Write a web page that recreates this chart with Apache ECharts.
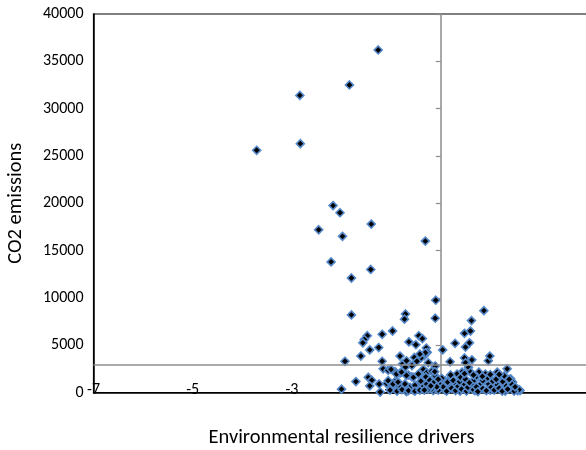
<!DOCTYPE html>
<html>
<head>
<meta charset="utf-8">
<script src="https://cdn.jsdelivr.net/npm/echarts@6/dist/echarts.min.js"></script>
<style>html,body{margin:0;padding:0;background:#fff}#c{width:586px;height:450px}</style>
</head>
<body>
<div id="c"></div>
<script>
// Tick labels / axis settings
const xTicks = { min: -7, max: 3, step: 2 };
const yTicks = { min: 0, max: 40000, step: 5000 };
const xTitle = 'Environmental resilience drivers';
const yTitle = 'CO2 emissions';
const meanCO2 = 2950;

// Environmental resilience driver (x) values
const driverValues = [
  -3.71,-2.84,-2.83,-1.84,-1.26,
  -2.17,-2.03,-2.46,-1.40,-1.98,-0.31,-2.21,-1.41,-1.80,-1.80,-0.10,-0.11,-0.71,-0.73,0.87,0.62,
  -0.97,-1.18,-1.48,-1.54,-1.57,0.48,0.60,-0.44,-0.37,-0.64,-0.50,
  -1.25,-1.43,-0.29,-0.27,-0.33,-0.40,0.04,0.29,0.50,0.58,
  -1.61,-1.93,-1.18,-0.77,-0.71,-0.53,-0.48,
  0.19,0.48,0.63,0.50,0.96,0.99,1.34,-0.82,-0.69,-0.31,-0.42,-0.25,
  -2.00,-1.71,-1.46,-1.39,-1.43,-1.24,-1.22,-1.09,-0.99,-0.92,-0.85,-0.92,-0.82,-0.69,-0.55,-0.45,-0.65,-0.58,
  -1.16,-1.06,-1.00,-0.89,-0.79,-0.69,-0.55,-0.45,-0.35,
  -1.06,-0.96,-0.86,-0.72,-0.62,-0.52,-0.38,-0.28,
  -1.02,-0.88,-0.78,-0.65,-0.52,-0.42,
  -0.35,-0.28,-0.18,-0.11,-0.58,
  0.56,0.60,0.43,0.33,0.77,0.90,1.14,1.21,-0.11,0.09,0.19,1.41,1.45,
  0.00,0.16,0.29,0.46,0.63,0.80,0.97,1.14,1.31,
  -0.15,0.09,0.39,0.69,1.00,1.30,1.60,1.55,1.58,1.32,1.44,1.38,1.48,
  -0.18,-0.05,0.05,0.12,0.22,0.30,0.35,0.42,0.52,0.55,0.66,0.72,0.75,0.85,0.92,1.02,1.08,1.18,1.24,1.35,1.50,
  0.02,0.14,0.25,0.38,0.40,0.50,0.58,0.68,0.72,0.85,0.95,1.05,1.12,1.25,1.28,
  0.20,0.48,0.66,0.84,1.00,1.18,
  -0.40,-0.30,-0.22,-0.15,-0.08,-0.25,-0.12,-0.05,-0.33,-0.20
];

// CO2 emissions (y) values
const co2Values = [
  25600,31400,26300,32500,36200,
  19750,19000,17200,17800,16500,16000,13800,13000,12100,8200,9750,7850,8300,7750,8650,7600,
  6500,6150,6000,5600,5250,6250,6500,6000,5700,5350,5050,
  4750,4500,4700,4250,3900,3650,4500,5200,4800,5250,
  3850,3300,3300,3000,2700,3700,3300,
  3250,3650,3450,3150,3350,3850,2500,3850,3350,4200,4050,3150,
  350,1150,1600,1300,700,900,50,950,600,1150,700,2200,2050,100,250,800,1850,1650,
  2500,2350,2450,1950,2150,1800,1600,1950,1450,
  1250,900,1100,900,550,750,550,900,
  250,150,300,200,150,250,
  2450,2100,2250,2800,2850,
  2650,2150,2150,1950,2150,1950,2150,1600,1750,1250,1450,1450,1100,
  850,800,900,800,900,850,900,800,950,
  200,250,150,200,250,150,200,200,300,700,850,1400,150,
  400,250,600,150,450,200,650,350,150,550,300,600,100,400,200,550,250,450,150,350,600,
  1500,1100,1300,1150,1600,1400,1050,1350,1700,1250,1550,1200,1400,1150,1750,
  1850,2000,1850,1700,1900,1900,
  1200,1650,1300,1000,600,350,2200,1400,250,700
];

const points = driverValues.map((x, i) => [x, co2Values[i]]);
const FONT = 'Carlito, Lato, sans-serif';

const chart = echarts.init(document.getElementById('c'), null, { renderer: 'canvas' });
chart.setOption({
  animation: false,
  grid: {
    left: 93.5, right: -3.5, top: 14, bottom: 57.5,
    containLabel: false, outerBoundsMode: 'none',
    show: true, borderColor: '#000', borderWidth: 1.2, backgroundColor: 'transparent'
  },
  xAxis: [{
    type: 'value', min: xTicks.min, max: xTicks.max, interval: xTicks.step,
    axisLine: { onZero: false, lineStyle: { color: '#000', width: 1.5 } },
    axisTick: { show: false },
    splitLine: { show: false },
    axisLabel: { margin: -10.5, color: '#000', fontSize: 16, fontFamily: FONT, showMaxLabel: false,
      formatter: v => String(v) },
    name: xTitle, nameLocation: 'middle', nameGap: 35,
    nameTextStyle: { color: '#000', fontSize: 20.5, fontFamily: FONT }
  }],
  yAxis: [{
    type: 'value', min: yTicks.min, max: yTicks.max, interval: yTicks.step,
    position: 'left',
    axisLine: { show: true, onZero: false, lineStyle: { color: '#000', width: 1.5 } },
    axisTick: { show: false },
    splitLine: { show: false },
    axisLabel: { margin: 10, color: '#000', fontSize: 16, fontFamily: FONT,
      formatter: v => String(v) },
    name: yTitle, nameLocation: 'middle', nameGap: 67, nameRotate: 90,
    nameTextStyle: { color: '#000', fontSize: 20.5, fontFamily: FONT }
  }, {
    type: 'value', min: yTicks.min, max: yTicks.max, interval: yTicks.step,
    position: 'left',
    axisLine: { show: true, onZero: true, lineStyle: { color: '#8c8c8c', width: 1.5 } },
    axisTick: { show: true, length: 5, lineStyle: { color: '#8c8c8c', width: 1.2 } },
    axisLabel: { show: false },
    splitLine: { show: false }
  }],
  series: [{
    type: 'scatter',
    data: points,
    symbol: 'diamond',
    symbolSize: 8,
    itemStyle: { color: '#000', borderColor: '#5689c9', borderWidth: 1.6, opacity: 1 },
    markLine: {
      silent: true, symbol: ['none', 'none'], animation: false,
      label: { show: false },
      lineStyle: { color: '#8c8c8c', width: 1.5, type: 'solid' },
      data: [{ yAxis: meanCO2 }]
    },
    z: 3
  }]
});
</script>
</body>
</html>
